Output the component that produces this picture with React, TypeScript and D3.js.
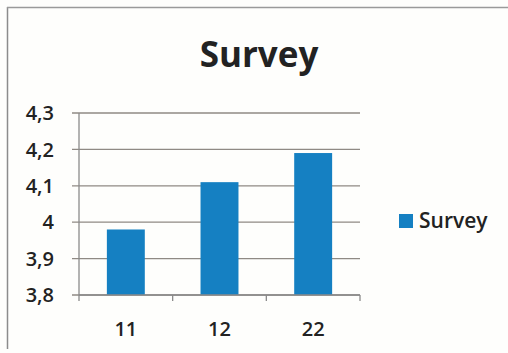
import React from "react";
import * as d3 from "d3";

const categories = ["11", "12", "22"];
const values = [3.98, 4.11, 4.19];
const yTicks = [3.8, 3.9, 4.0, 4.1, 4.2, 4.3];
const seriesName = "Survey";
const title = "Survey";

const W = 508;
const H = 353;
const FONT = "'Open Sans', Lato, 'Noto Sans', sans-serif";

export default function App() {
  const left = 79;
  const right = 360;
  const top = 113;
  const bottom = 295;
  const x = d3.scaleBand<string>().domain(categories).range([left, right]).paddingInner(0.595).paddingOuter(0.2975);
  const xBand = d3.scaleBand<string>().domain(categories).range([left, right]);
  const y = d3.scaleLinear().domain([3.8, 4.3]).range([bottom, top]);
  const fmt = (v: number) => (Math.round(v * 10) / 10).toString().replace(".", ",");
  const barColor = "#1580c2";
  const txt = "#222";
  return (
    <div style={{ position: "absolute", left: 0, top: 0, width: W, height: H, background: "#fff" }}>
      <svg width={W} height={H} style={{ display: "block" }}>
        <rect x={0} y={0} width={W} height={H} fill="#fefefc" />
        <line x1={7.5} y1={7} x2={7.5} y2={349} stroke="#8c8c8c" strokeWidth={1.5} />
        <line x1={7} y1={7.5} x2={W} y2={7.5} stroke="#9a9a9a" strokeWidth={1.5} />
        <text x={259} y={67} textAnchor="middle" fontFamily={FONT} fontWeight="bold" fontSize={35} fill={txt}>
          {title}
        </text>
        {yTicks.map((t) => (
          <g key={t}>
            <line x1={left - 7} x2={right} y1={y(t)} y2={y(t)} stroke="#8f8a84" strokeWidth={1.3} />
            <text x={54} y={y(t)} dy="0.36em" textAnchor="end" fontFamily={FONT} fontWeight={600} fontSize={20} fill={txt}>
              {fmt(t)}
            </text>
          </g>
        ))}
        {categories.map((c, i) => (
          <rect key={c} x={x(c)} y={y(values[i])} width={x.bandwidth()} height={y(3.8) - y(values[i])} fill={barColor} />
        ))}
        <line x1={left} x2={left} y1={top} y2={bottom + 6} stroke="#8a8a8a" strokeWidth={1.3} />
        <line x1={left} x2={right} y1={bottom} y2={bottom} stroke="#8a8a8a" strokeWidth={1.3} />
        {categories.map((c) => (
          <line key={"t" + c} x1={(xBand(c) as number) + xBand.bandwidth()} x2={(xBand(c) as number) + xBand.bandwidth()} y1={bottom} y2={bottom + 6} stroke="#8a8a8a" strokeWidth={1.3} />
        ))}
        {categories.map((c) => (
          <text key={"l" + c} x={(x(c) as number) + x.bandwidth() / 2} y={329} dy="0.36em" textAnchor="middle" fontFamily={FONT} fontWeight={600} fontSize={20} fill={txt}>
            {c}
          </text>
        ))}
        <rect x={399} y={214} width={14} height={14} fill={barColor} />
        <text x={419} y={228} fontFamily={FONT} fontWeight={600} fontSize={21} fill={txt}>
          {seriesName}
        </text>
      </svg>
    </div>
  );
}
